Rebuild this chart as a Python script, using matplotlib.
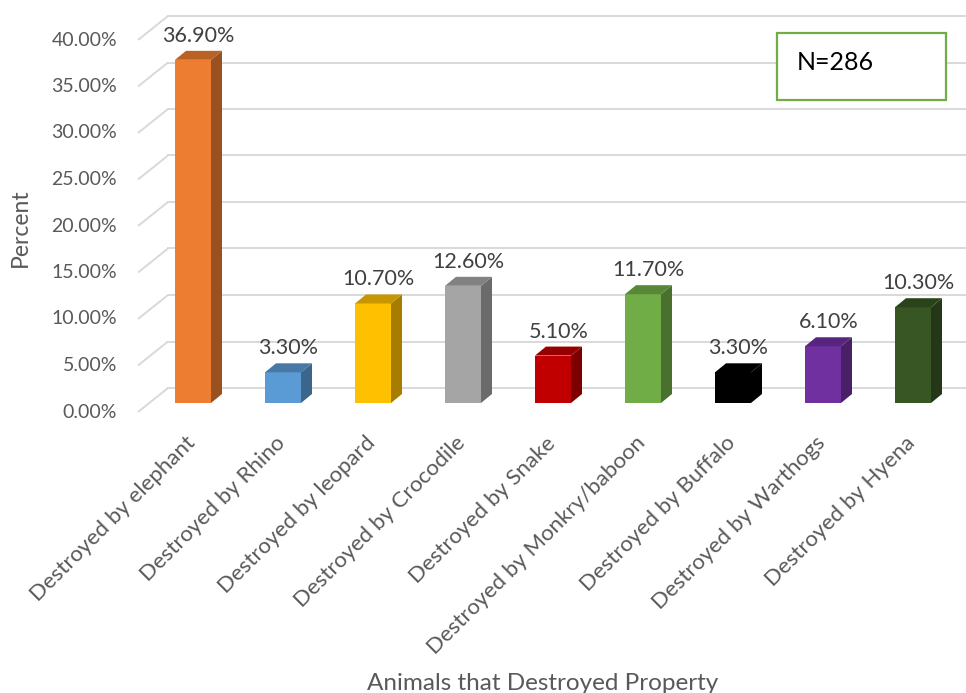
import matplotlib.pyplot as plt
from matplotlib.patches import Polygon, Rectangle
import numpy as np

plt.rcParams["font.family"] = ["Lato", "DejaVu Sans"]

categories = ["Destroyed by elephant", "Destroyed by Rhino", "Destroyed by leopard",
              "Destroyed by Crocodile", "Destroyed by Snake", "Destroyed by Monkry/baboon",
              "Destroyed by Buffalo", "Destroyed by Warthogs", "Destroyed by Hyena"]
percent = [36.9, 3.3, 10.7, 12.6, 5.1, 11.7, 3.3, 6.1, 10.3]
colors = ["#ED7D31", "#5B9BD5", "#FFC000", "#A5A5A5", "#C00000",
          "#70AD47", "#000000", "#7030A0", "#375623"]
yticks = [0, 5, 10, 15, 20, 25, 30, 35, 40]

# scale: pixels per category step and per percent point
SX, SY = 90.0, 9.3
W, H = 966, 693
x0_px, y0_px = 193, 403   # first bar centre / bar baseline in pixels


def px(dx):
    return dx / SX


def py(dy):
    return dy / SY


def shade(c, f):
    r, g, b = [int(c[i:i + 2], 16) / 255 for i in (1, 3, 5)]
    return (r * f, g * f, b * f)


fig = plt.figure(figsize=(W / 100, H / 100), dpi=100)
ax = fig.add_axes([0, 0, 1, 1])
ax.set_xlim(-x0_px / SX, (W - x0_px) / SX)
ax.set_ylim((y0_px - H) / SY, y0_px / SY)
ax.axis("off")

grid_c = "#d9d9d9"
front_x = px(138 - x0_px)
back_x = px(168 - x0_px)
back_dy = py(15)    # back wall above bar plane
front_dy = -py(9)   # front edge below bar plane

# walls: side-wall diagonals + back-wall horizontals
for t in yticks:
    ax.plot([front_x, back_x], [t + front_dy, t + back_dy], color=grid_c, lw=1.4, zorder=1,
            solid_capstyle="butt")
    ax.plot([back_x, 20], [t + back_dy, t + back_dy], color=grid_c, lw=1.4, zorder=1)
    ax.text(px(117 - x0_px), t + front_dy, f"{t:.2f}%", ha="right", va="center",
            fontsize=14, color="#595959")

# 3-D style bars
bw = 0.4
dx, dy = px(11), py(9)
for i, (v, c) in enumerate(zip(percent, colors)):
    xl, xr = i - bw / 2, i + bw / 2
    ax.add_patch(Rectangle((xl, 0), bw, v, facecolor=c, edgecolor="none", zorder=3))
    ax.add_patch(Polygon([(xr, 0), (xr + dx, dy), (xr + dx, v + dy), (xr, v)],
                         closed=True, facecolor=shade(c, 0.65), edgecolor="none", zorder=3))
    ax.add_patch(Polygon([(xl, v), (xr, v), (xr + dx, v + dy), (xl + dx, v + dy)],
                         closed=True, facecolor=shade(c, 0.78), edgecolor="none", zorder=3))
    ax.text(i + dx / 2, v + dy + py(15), f"{v:.2f}%", ha="center", va="center",
            fontsize=15.5, color="#404040", zorder=4)
    ax.text(i - px(1), py(-37), categories[i], rotation=45, rotation_mode="anchor",
            ha="right", va="center", fontsize=16, color="#595959")

ax.text(px(20 - x0_px), py(y0_px - 228), "Percent", rotation=90, ha="center", va="center",
        fontsize=16.5, color="#595959")
ax.text(px(543 - x0_px), py(y0_px - 683), "Animals that Destroyed Property", ha="center",
        va="center", fontsize=17.5, color="#595959")

# N annotation box
ax.add_patch(Rectangle((px(777 - x0_px), py(y0_px - 100)), px(169), py(67),
                       facecolor="white", edgecolor="#70AD47", lw=1.6, zorder=5))
ax.text(px(797 - x0_px), py(y0_px - 62), "N=286", ha="left", va="center",
        fontsize=18, color="black", zorder=6)

fig.savefig("out.png", dpi=100)
